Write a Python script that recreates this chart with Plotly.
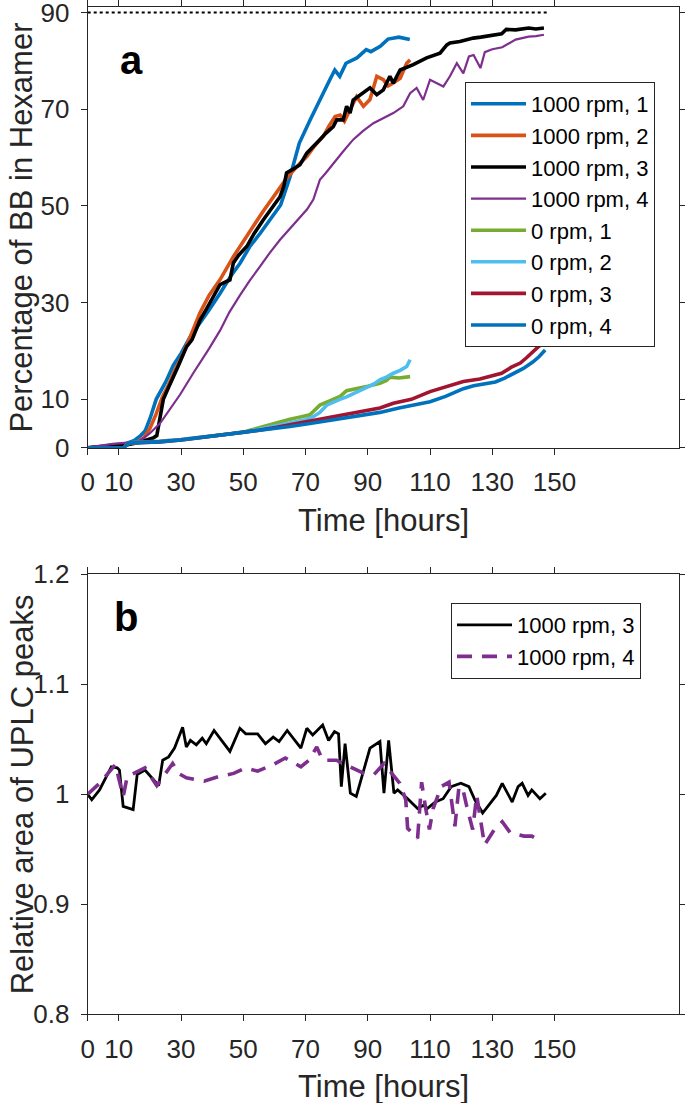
import plotly.graph_objects as go

FONT = "Liberation Sans, Arial, Helvetica, sans-serif"
AX = "#262626"

# ---------------- Panel a: percentage of BB in hexamer ----------------
t_1000_1 = [0, 8, 12, 15, 17, 18.5, 20, 22, 25, 27.5, 30, 33, 36, 39, 42.5, 46, 49, 52, 55.5, 58.5,
            62, 65, 68, 71.5, 74.5, 77.8, 79.4, 81, 83, 86.5, 89.5, 91, 94, 96.5, 100, 103.5]
v_1000_1 = [0, 0.5, 0.8, 1.5, 2.5, 3.5, 6, 10, 13.5, 17, 19.5, 23, 25.7, 28.5, 31.9, 35.5, 38.2, 41.5, 44.4, 47.1,
            50.2, 56, 63, 67.8, 71.9, 76.1, 78.1, 76.8, 79.5, 80.6, 82.3, 81.9, 83, 84.5, 84.9, 84.4]

t_1000_2 = [0, 8, 12, 16, 18, 20, 22, 24, 26, 28, 30, 33, 36, 39, 42.5, 46.8, 50, 53.2, 56.5, 59.6,
            63.9, 67, 70.4, 73, 75.7, 77.5, 79.5, 81.1, 82.5, 84.3, 86.4, 88.6, 90.7, 92.9, 95, 96.5,
            98.2, 100.4, 102.5, 103.6]
v_1000_2 = [0, 0.3, 0.6, 1.2, 2, 4, 7, 10.5, 13, 16, 18.5, 23, 27.8, 31.5, 34.7, 39.5, 42.8, 45.8, 49, 51.9,
            55.7, 58, 60.2, 62.5, 64.4, 66.5, 68.5, 68.8, 67.5, 69.9, 72.6, 70.6, 72, 76.8, 76.1, 74.8,
            75.4, 76.4, 79.5, 80.2]

t_1000_3 = [0, 8, 12, 16, 19, 21, 22.2, 23.2, 24.3, 26, 27.5, 29.1, 30.5, 31.8, 33.5, 36.1, 38, 40.4, 42.5, 44,
            45.7, 46.8, 48.5, 51.1, 53.5, 56.4, 59, 61.8, 63, 63.9, 66, 68.2, 70.4, 72.5, 74.6, 76.5, 78.9,
            80, 82.1, 83.2, 84.3, 85.3, 87.5, 90.7, 92.9, 95, 97.1, 98.2, 100.4, 102.5, 104.6, 108.9, 113.2,
            115.4, 116.4, 119.6, 123.9, 126.3, 130, 133, 134.5, 137.5, 141.7, 144, 146.6]
v_1000_3 = [0, 0.3, 0.5, 1, 1.5, 2, 2.5, 6, 10, 12.5, 14.5, 16.9, 19, 20.9, 22.3, 26.4, 28.5, 31.2, 33.7, 34.2,
            34.7, 38.2, 39.8, 41.6, 44.3, 47.1, 49.5, 51.9, 54, 56.8, 57.6, 58.5, 60.9, 62.2, 63.7, 65, 66.4,
            67.8, 67.8, 70.6, 69.2, 71.9, 73, 74.4, 73, 74, 76.8, 75.4, 78.1, 78.6, 79.2, 80.6, 81.6,
            83.3, 83.7, 84, 84.7, 84.9, 85.3, 85.6, 86.5, 86.4, 86.8, 86.6, 86.8]

t_1000_4 = [0, 8, 12, 16, 18, 20, 23.2, 26, 29.7, 33.9, 36.1, 39, 42.5, 45.5, 48.9, 52, 55.4, 58.5, 61.8, 65,
            68.2, 70.5, 72.5, 74.6, 76.5, 78.9, 82, 85.3, 88.5, 91.8, 95, 98.2, 101.4, 103.6, 105.7, 107.8,
            110, 112.1, 114.3, 116.4, 118.6, 120.7, 122.5, 124, 126.2, 127.6, 130, 133.2, 137.5, 141.7,
            144, 146.6]
v_1000_4 = [0, 0.8, 1, 1.2, 2, 3, 5, 7.5, 11, 15.4, 17.5, 20.5, 24.2, 28, 31.5, 34.5, 37.5, 40.3, 43, 45.4,
            47.8, 49.3, 51.3, 55.4, 56.8, 58.8, 61.2, 63.7, 65.5, 67.1, 68.2, 69.2, 70.6, 73.3, 74.4, 71.9,
            76.1, 75.4, 74.7, 76.8, 79.5, 77.4, 80.9, 81.2, 78.5, 81.8, 82.4, 82.8, 84.4, 85,
            85.1, 85.4]

t_0_1 = [0, 11.5, 13.5, 18, 23, 30, 39, 45, 50.5, 55, 58, 61.8, 65, 68, 71.4, 72.5, 74.6, 76.8, 79, 81.1,
         83.2, 85, 87.5, 90, 93.9, 96, 97.1, 100, 103.6]
v_0_1 = [0, 0, 1.0, 1.1, 1.3, 1.7, 2.3, 2.8, 3.3, 4.1, 4.8, 5.5, 5.9, 6.3, 6.8, 7.5, 8.8, 9.4, 10.1, 10.6,
         11.8, 12.0, 12.3, 12.7, 13.3, 13.9, 14.6, 14.4, 14.7]

t_0_2 = [0, 11.5, 13.5, 18, 23, 30, 39, 45, 50.5, 55, 60, 65, 70, 72.5, 74.6, 76.8, 79, 81, 83.2, 86,
         89.6, 92, 94, 96, 98.2, 100.4, 102.5, 103.6]
v_0_2 = [0, 0, 1.0, 1.1, 1.3, 1.7, 2.3, 2.8, 3.2, 3.8, 4.5, 5.1, 5.8, 6.4, 7.3, 8.8, 9.5, 10.0, 10.5, 11.4,
         12.6, 13.2, 14.1, 14.6, 15.4, 16.0, 16.8, 18.2]

t_0_3 = [0, 11.5, 13.5, 18, 23, 30, 39, 48.9, 55, 60.7, 65, 71.4, 76, 82.1, 87.5, 93.9, 98.2, 104, 110, 115,
         120.7, 126, 130, 133, 136, 139, 141, 143, 145, 147]
v_0_3 = [0, 0, 1.0, 1.1, 1.2, 1.6, 2.3, 3.0, 3.6, 4.2, 4.7, 5.4, 6.0, 6.7, 7.4, 8.2, 9.2, 10.0, 11.6, 12.6,
         13.7, 14.2, 14.8, 15.4, 16.6, 17.5, 18.6, 19.8, 21.0, 21.8]

t_0_4 = [0, 11.5, 13.5, 18, 23, 30, 39, 48.9, 55, 60.7, 65, 71.4, 76, 82.1, 87.5, 93.9, 100, 105, 110, 115,
         120.7, 124, 126, 128, 131, 134, 137, 140, 143, 145, 147]
v_0_4 = [0, 0, 1.0, 1.1, 1.2, 1.6, 2.3, 3.0, 3.5, 4.0, 4.4, 5.0, 5.5, 6.1, 6.7, 7.3, 8.2, 8.9, 9.5, 10.6,
         12.2, 12.8, 13.0, 13.3, 13.6, 14.4, 15.4, 16.4, 17.7, 18.8, 20.2]

ref_t = [0, 147.5]
ref_v = [90, 90]

# ---------------- Panel b: relative area of UPLC peaks ----------------
tb_3 = [0, 1.3, 3.8, 7.6, 9.5, 10.2, 11.4, 14.6, 15.9, 18.4, 22.8, 24.1, 26, 27.9, 30.5, 31.7, 33, 34.9,
        36.8, 38.1, 40.6, 45.7, 48.9, 50.8, 54.6, 57.1, 59.6, 61.5, 64.1, 68.5, 70.4, 72.3, 75.5, 77.4,
        79.3, 80.6, 81.5, 82.7, 84.4, 86.3, 90.7, 93.9, 95.2, 96.7, 98.4, 99.6, 102.8, 106, 107.9, 109.1,
        111.7, 114.2, 116.8, 119.9, 122.5, 124.4, 126.9, 129.4, 131.3, 133.2, 136.4, 138.3, 139.6, 141.5,
        142.7, 145.3, 147.2]
vb_3 = [1.0, 0.995, 1.004, 1.025, 1.024, 1.022, 0.989, 0.986, 1.018, 1.022, 1.008, 1.031, 1.034, 1.042,
        1.061, 1.043, 1.049, 1.045, 1.051, 1.046, 1.058, 1.039, 1.06, 1.055, 1.055, 1.046, 1.052, 1.048,
        1.058, 1.042, 1.06, 1.054, 1.063, 1.049, 1.057, 1.055, 1.007, 1.046, 1.001, 0.998, 1.042, 1.048,
        1.001, 1.049, 1.001, 1.004, 0.996, 0.987, 0.99, 0.987, 0.993, 0.996, 1.007, 1.01, 1.007, 0.995,
        0.983, 0.992, 0.999, 1.01, 0.993, 1.007, 1.01, 0.999, 1.004, 0.996, 1.001]

tb_4 = [0, 3.8, 8.9, 11.4, 12.7, 18.4, 22.2, 27.3, 29.2, 31.7, 37.4, 41.9, 46.9, 50.8, 54.6, 59.6, 63.5,
        68.5, 71.1, 73.6, 75.5, 79.9, 85, 88.8, 92, 95.2, 97.7, 100.3, 102.2, 102.8, 106, 107.3, 108.5,
        109.8, 111, 113.6, 116.1, 118, 119.3, 120.6, 121.8, 123.7, 125, 127.5, 130.7, 133.2, 135.8, 140.2,
        142.7, 145.9]
vb_4 = [1.0, 1.01, 1.027, 0.998, 1.016, 1.024, 1.008, 1.028, 1.019, 1.015, 1.012, 1.016, 1.019, 1.024,
        1.021, 1.027, 1.033, 1.025, 1.031, 1.043, 1.031, 1.031, 1.024, 1.019, 1.018, 1.028, 1.019, 1.01,
        0.995, 0.969, 0.96, 1.011, 0.989, 0.968, 0.987, 1.007, 1.011, 0.971, 1.007, 1.004, 0.989, 0.968,
        0.999, 0.954, 0.968, 0.975, 0.965, 0.962, 0.962, 0.957]

x_ticks = [0, 10, 30, 50, 70, 90, 110, 130, 150]
ya_ticks = [0, 10, 30, 50, 70, 90]
yb_ticks = [0.8, 0.9, 1.0, 1.1, 1.2]
yb_ticktext = ["0.8", "0.9", "1", "1.1", "1.2"]

W, H = 685, 1103

fig = go.Figure()

series_a = [
    ("1000 rpm, 1", t_1000_1, v_1000_1, "#0072BD", 3.6),
    ("1000 rpm, 2", t_1000_2, v_1000_2, "#D95319", 3.6),
    ("1000 rpm, 3", t_1000_3, v_1000_3, "#000000", 3.6),
    ("1000 rpm, 4", t_1000_4, v_1000_4, "#7E2F8E", 2.2),
    ("0 rpm, 1", t_0_1, v_0_1, "#77AC30", 3.6),
    ("0 rpm, 2", t_0_2, v_0_2, "#4DBEEE", 3.6),
    ("0 rpm, 3", t_0_3, v_0_3, "#A2142F", 3.6),
    ("0 rpm, 4", t_0_4, v_0_4, "#0072BD", 3.6),
]
for name, t, v, c, w in series_a:
    fig.add_trace(go.Scatter(x=t, y=v, mode="lines", name=name,
                             line=dict(color=c, width=w), xaxis="x", yaxis="y",
                             legend="legend"))

fig.add_trace(go.Scatter(x=ref_t, y=ref_v, mode="lines", showlegend=False,
                         line=dict(color="#000000", width=2, dash="dot"),
                         xaxis="x", yaxis="y"))

fig.add_trace(go.Scatter(x=tb_3, y=vb_3, mode="lines", name="1000 rpm, 3",
                         line=dict(color="#000000", width=2.8), xaxis="x2", yaxis="y2",
                         legend="legend2"))
fig.add_trace(go.Scatter(x=tb_4, y=vb_4, mode="lines", name="1000 rpm, 4",
                         line=dict(color="#7E2F8E", width=3.6, dash="15px,10px"),
                         xaxis="x2", yaxis="y2", legend="legend2"))

axis_common = dict(showline=True, linecolor=AX, linewidth=1, mirror="ticks",
                   ticks="outside", ticklen=6, tickwidth=1, tickcolor=AX,
                   showgrid=False, zeroline=False, automargin=False,
                   ticklabeloverflow="allow",
                   tickfont=dict(family=FONT, size=26, color=AX))

xdom = [87.7 / W, 679 / W]
ya_dom = [1 - 447.7 / H, 1 - 7.3 / H]
yb_dom = [1 - 1014.3 / H, 1 - 574.3 / H]

legend_common = dict(xanchor="left", yanchor="top", bgcolor="white", bordercolor=AX,
                     borderwidth=1, itemwidth=55, tracegroupgap=0,
                     font=dict(family=FONT, size=22, color="#000000"))

fig.update_layout(
    template="none",
    width=W, height=H,
    margin=dict(l=0, r=0, t=0, b=0, autoexpand=False),
    paper_bgcolor="white", plot_bgcolor="white",
    font=dict(family=FONT, color=AX),
    xaxis=dict(domain=xdom, range=[0, 190], tickvals=x_ticks, anchor="y",
               ticklabelstandoff=5, **axis_common),
    yaxis=dict(domain=ya_dom, range=[0, 91.07], tickvals=ya_ticks, anchor="x",
               ticklabelstandoff=6, **axis_common),
    xaxis2=dict(domain=xdom, range=[0, 190], tickvals=x_ticks, anchor="y2",
                ticklabelstandoff=5, **axis_common),
    yaxis2=dict(domain=yb_dom, range=[0.8, 1.2], tickvals=yb_ticks, ticktext=yb_ticktext,
                anchor="x2", ticklabelstandoff=6, **axis_common),
    legend=dict(x=465 / W, y=1 - 82 / H, **legend_common),
    legend2=dict(x=451 / W, y=1 - 603 / H, **legend_common),
    showlegend=True,
)

title_font = dict(family=FONT, size=31, color=AX)
ann = [
    dict(text="Time [hours]", x=383.4 / W, y=1 - 520 / H, font=title_font),
    dict(text="Time [hours]", x=383.4 / W, y=1 - 1086 / H, font=title_font),
    dict(text="Percentage of BB in Hexamer", x=22 / W, y=1 - 227.6 / H, textangle=-90, font=title_font),
    dict(text="Relative area of UPLC peaks", x=22 / W, y=1 - 794.3 / H, textangle=-90, font=title_font),
    dict(text="<b>a</b>", x=131 / W, y=1 - 60 / H, font=dict(family=FONT, size=40, color="#000000")),
    dict(text="<b>b</b>", x=126 / W, y=1 - 617 / H, font=dict(family=FONT, size=40, color="#000000")),
]
for a in ann:
    fig.add_annotation(xref="paper", yref="paper", showarrow=False,
                       xanchor="center", yanchor="middle", **a)

fig.write_html("out.html", config={"displayModeBar": False},
               post_script="document.body.style.margin='0px';")
